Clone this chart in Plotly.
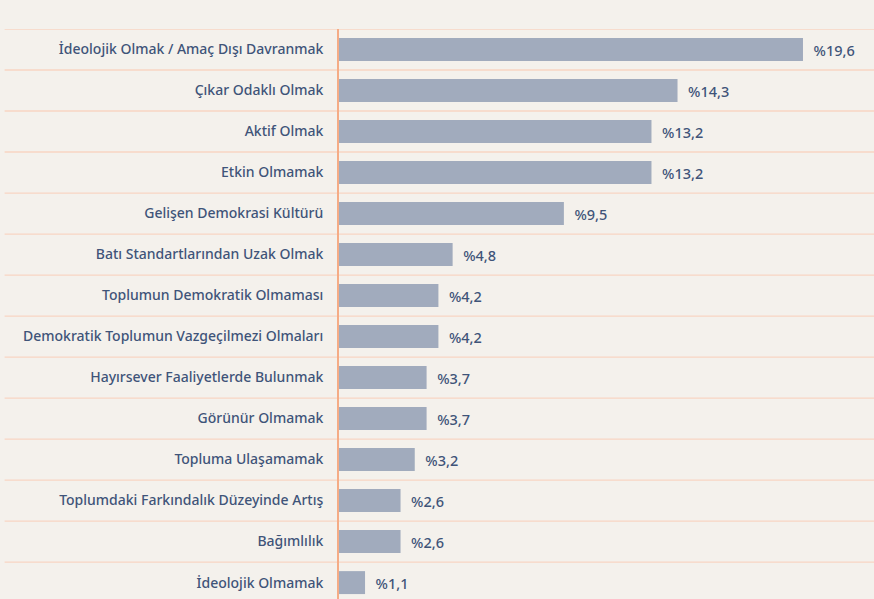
import plotly.graph_objects as go

# ==========================================================
# DATA
# ==========================================================

categories = [
    "İdeolojik Olmak / Amaç Dışı Davranmak",
    "Çıkar Odaklı Olmak",
    "Aktif Olmak",
    "Etkin Olmamak",
    "Gelişen Demokrasi Kültürü",
    "Batı Standartlarından Uzak Olmak",
    "Toplumun Demokratik Olmaması",
    "Demokratik Toplumun Vazgeçilmezi Olmaları",
    "Hayırsever Faaliyetlerde Bulunmak",
    "Görünür Olmamak",
    "Topluma Ulaşamamak",
    "Toplumdaki Farkındalık Düzeyinde Artış",
    "Bağımlılık",
    "İdeolojik Olmamak",
]

values = [19.6, 14.3, 13.2, 13.2, 9.5, 4.8, 4.2, 4.2, 3.7, 3.7, 3.2, 2.6, 2.6, 1.1]

# "%19,6" style labels, padded away from the bar end
labels = ["\u00a0\u00a0%" + f"{v:.1f}".replace(".", ",") for v in values]

BG = "#f4f1ec"
BAR = "#a1abbd"
TEXT = "#3f5479"
GRID = "#f8d5c3"
AXIS = "#f5ac86"

# ==========================================================
# FIGURE
# ==========================================================

fig = go.Figure()

fig.add_trace(
    go.Bar(
        x=values,
        y=categories,
        orientation="h",
        marker=dict(color=BAR, line=dict(width=0)),
        text=labels,
        textposition="outside",
        textfont=dict(color=TEXT, size=14.5, family="Noto Sans", weight=500),
        cliponaxis=False,
        hoverinfo="skip",
    )
)

# row separators (between categories)
n = len(categories)
for i in range(n + 1):
    fig.add_shape(
        type="line",
        xref="paper",
        yref="y",
        x0=-0.625,
        x1=1,
        y0=i - 0.5,
        y1=i - 0.5,
        line=dict(color=GRID, width=1.3),
        layer="below",
    )

fig.update_layout(
    width=874,
    height=599,
    margin=dict(l=339, r=0, t=29, b=0),
    paper_bgcolor=BG,
    plot_bgcolor=BG,
    bargap=0.44,
    showlegend=False,
    font=dict(family="Noto Sans", color=TEXT),
    xaxis=dict(
        range=[0, 22.6],
        showgrid=False,
        showticklabels=False,
        zeroline=False,
        showline=False,
        ticks="",
    ),
    yaxis=dict(
        categoryorder="array",
        categoryarray=categories,
        range=[n - 0.6, -0.5],
        showgrid=False,
        zeroline=False,
        showline=True,
        linecolor=AXIS,
        linewidth=2,
        ticks="",
        ticksuffix="   ",
        tickfont=dict(size=14, color=TEXT, family="Noto Sans", weight=500),
    ),
)

fig.write_html(
    "out.html",
    config={"displayModeBar": False},
    post_script="document.body.style.margin='0';document.body.style.background='%s';" % BG,
)
